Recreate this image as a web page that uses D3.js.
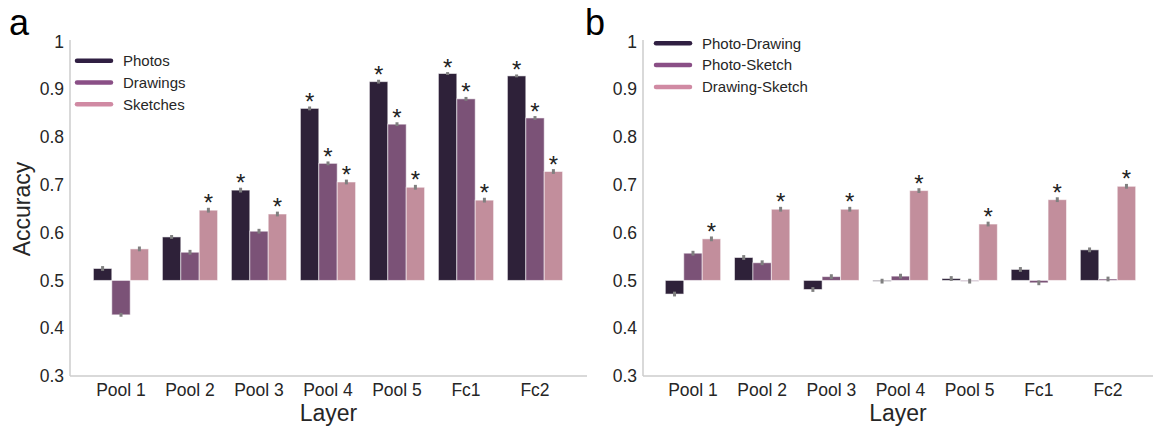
<!DOCTYPE html>
<html>
<head>
<meta charset="utf-8">
<script src="https://cdn.jsdelivr.net/npm/d3@7"></script>
<style>
  body { margin: 0; background: #fff; }
  text { font-family: Arial, "Liberation Sans", sans-serif; }
</style>
</head>
<body>
<div id="chart"></div>
<script>
// layers on the x axis
let layers = ["Pool 1", "Pool 2", "Pool 3", "Pool 4", "Pool 5", "Fc1", "Fc2"];
let yTicks = [0.3, 0.4, 0.5, 0.6, 0.7, 0.8, 0.9, 1];

// panel a
let seriesA = ["Photos", "Drawings", "Sketches"];
let photos   = [0.525, 0.591, 0.689, 0.860, 0.916, 0.933, 0.928];
let drawings = [0.428, 0.559, 0.603, 0.745, 0.827, 0.880, 0.840];
let sketches = [0.566, 0.647, 0.639, 0.706, 0.695, 0.668, 0.728];
let photosErr   = [0.005, 0.004, 0.005, 0.004, 0.004, 0.003, 0.003];
let drawingsErr = [0.004, 0.005, 0.005, 0.004, 0.004, 0.004, 0.004];
let sketchesErr = [0.005, 0.005, 0.005, 0.005, 0.005, 0.005, 0.005];
let photosSig   = [0, 0, 1, 1, 1, 1, 1];
let drawingsSig = [0, 0, 0, 1, 1, 1, 1];
let sketchesSig = [0, 1, 1, 1, 1, 1, 1];

// panel b
let seriesB = ["Photo-Drawing", "Photo-Sketch", "Drawing-Sketch"];
let photoDrawing   = [0.4715, 0.548, 0.481, 0.4985, 0.504, 0.523, 0.564];
let photoSketch    = [0.557, 0.537, 0.508, 0.509, 0.4985, 0.495, 0.503];
let drawingSketch  = [0.587, 0.649, 0.649, 0.688, 0.618, 0.669, 0.697];
let photoDrawingErr  = [0.005, 0.005, 0.005, 0.005, 0.005, 0.005, 0.005];
let photoSketchErr   = [0.005, 0.005, 0.005, 0.005, 0.005, 0.005, 0.005];
let drawingSketchErr = [0.005, 0.005, 0.005, 0.005, 0.005, 0.005, 0.005];
let photoDrawingSig  = [0, 0, 0, 0, 0, 0, 0];
let photoSketchSig   = [0, 0, 0, 0, 0, 0, 0];
let drawingSketchSig = [1, 1, 1, 1, 1, 1, 1];

let barColors = ["#2e2139", "#7b5277", "#c28e9c"];
let legendColors = ["#301f42", "#8a4f86", "#d08aa3"];
let baseline = 0.5;

let svg = d3.select('#chart')
    .append('svg')
    .attr('width', 1153)
    .attr('height', 428);

let y = d3.scaleLinear().domain([0.3, 1]).range([376, 41.5]);

function buildRows(vals, errs, sigs) {
    return layers.map(function (layer, i) {
        return vals.map(function (v, s) {
            return {layer: layer, s: s, v: v[i], err: errs[s][i], sig: sigs[s][i]};
        });
    });
}

function drawPanel(opts) {
    let g = svg.append('g');

    let x = d3.scaleBand().domain(layers)
        .range([opts.x0, opts.x1]).paddingInner(0.2).paddingOuter(0.1);
    let xs = d3.scaleBand().domain([0, 1, 2]).range([0, x.bandwidth()]);

    // spines
    g.append('line')
        .attr('x1', opts.axisX).attr('x2', opts.axisX)
        .attr('y1', 40).attr('y2', 376)
        .attr('stroke', '#cccccc').attr('stroke-width', 1.5);
    g.append('line')
        .attr('x1', opts.axisX).attr('x2', opts.axisEnd)
        .attr('y1', 376).attr('y2', 376)
        .attr('stroke', '#cccccc').attr('stroke-width', 1.5);

    // y axis
    let yAxisCall = d3.axisLeft(y).tickValues(yTicks).tickSize(0).tickPadding(6)
        .tickFormat(function (d) { return d === 1 ? '1' : d.toFixed(1); });
    let ya = g.append('g').attr('transform', 'translate(' + opts.axisX + ',0)').call(yAxisCall);
    ya.select('.domain').remove();
    ya.selectAll('text').attr('font-size', '17.5px').attr('fill', '#262626')
        .attr('font-family', 'Arial, "Liberation Sans", sans-serif');

    // x axis
    let xAxisCall = d3.axisBottom(x).tickSize(0).tickPadding(8);
    let xa = g.append('g').attr('transform', 'translate(0,376)').call(xAxisCall);
    xa.select('.domain').remove();
    xa.selectAll('text').attr('font-size', '17.5px').attr('fill', '#262626')
        .attr('font-family', 'Arial, "Liberation Sans", sans-serif');

    // axis titles
    g.append('text')
        .attr('x', (opts.axisX + opts.axisEnd) / 2)
        .attr('y', 421)
        .attr('text-anchor', 'middle')
        .attr('font-size', '23px')
        .attr('fill', '#262626')
        .text('Layer');

    if (opts.yLabel) {
        g.append('text')
            .attr('transform', 'translate(30,209) rotate(-90)')
            .attr('text-anchor', 'middle')
            .attr('font-size', '23px')
            .attr('fill', '#262626')
            .text(opts.yLabel);
    }

    // panel letter
    g.append('text')
        .attr('x', opts.letterX)
        .attr('y', 35)
        .attr('font-size', '36px')
        .attr('fill', '#000')
        .text(opts.letter);

    let groups = g.selectAll('.grp').data(opts.rows).enter()
        .append('g')
        .attr('transform', function (d) { return 'translate(' + x(d[0].layer) + ',0)'; });

    let bars = groups.selectAll('.bar').data(function (d) { return d; }).enter();

    bars.append('rect')
        .attr('x', function (d) { return xs(d.s); })
        .attr('width', xs.bandwidth())
        .attr('y', function (d) { return y(Math.max(d.v, baseline)); })
        .attr('height', function (d) { return Math.max(Math.abs(y(d.v) - y(baseline)), 0.8); })
        .attr('fill', function (d) { return barColors[d.s]; })
        .attr('stroke', '#ffffff')
        .attr('stroke-opacity', 0.55)
        .attr('stroke-width', 1);

    // error bars
    bars.append('line')
        .attr('x1', function (d) { return xs(d.s) + xs.bandwidth() / 2; })
        .attr('x2', function (d) { return xs(d.s) + xs.bandwidth() / 2; })
        .attr('y1', function (d) { return y(d.v - d.err); })
        .attr('y2', function (d) { return y(d.v + d.err); })
        .attr('stroke', '#808080')
        .attr('stroke-width', 3);

    // significance
    bars.filter(function (d) { return d.sig; })
        .append('text')
        .attr('x', function (d) { return xs(d.s) + xs.bandwidth() / 2; })
        .attr('y', function (d) { return y(d.v + d.err) + 3.5; })
        .attr('text-anchor', 'middle')
        .attr('font-size', '24px')
        .attr('fill', '#222')
        .text('*');

    // legend
    let leg = g.append('g').attr('transform', 'translate(' + opts.legX + ',' + opts.legY + ')');
    opts.series.forEach(function (name, i) {
        leg.append('line')
            .attr('x1', 0).attr('x2', 34)
            .attr('y1', i * 21.8).attr('y2', i * 21.8)
            .attr('stroke', legendColors[i])
            .attr('stroke-width', 4.5)
            .attr('stroke-linecap', 'round');
        leg.append('text')
            .attr('x', 46)
            .attr('y', i * 21.8)
            .attr('dy', '0.35em')
            .attr('font-size', '15px')
            .attr('fill', '#262626')
            .text(name);
    });
}

drawPanel({
    rows: buildRows([photos, drawings, sketches],
        [photosErr, drawingsErr, sketchesErr],
        [photosSig, drawingsSig, sketchesSig]),
    series: seriesA,
    x0: 86.5, x1: 569.5, axisX: 70, axisEnd: 587,
    yLabel: 'Accuracy', letter: 'a', letterX: 9,
    legX: 77, legY: 60.7
});

drawPanel({
    rows: buildRows([photoDrawing, photoSketch, drawingSketch],
        [photoDrawingErr, photoSketchErr, drawingSketchErr],
        [photoDrawingSig, photoSketchSig, drawingSketchSig]),
    series: seriesB,
    x0: 658.4, x1: 1142.6, axisX: 643, axisEnd: 1153,
    yLabel: null, letter: 'b', letterX: 585,
    legX: 656, legY: 43.3
});
</script>
</body>
</html>
